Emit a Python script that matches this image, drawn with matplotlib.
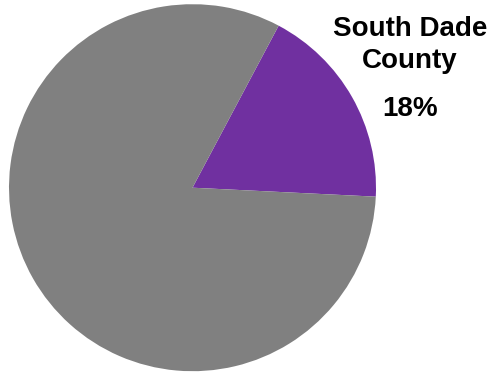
import matplotlib.pyplot as plt

# share of the total
labels = ["South Dade County", "Rest"]
shares = [18, 82]
colors = ["#7030A0", "#808080"]

W, H = 490, 373
fig = plt.figure(figsize=(W / 100, H / 100), dpi=100)
ax = fig.add_axes([0, 0, 1, 1])

ax.pie(shares, colors=colors, startangle=-2.8, counterclock=True,
       center=(192.5, H - 187.7), radius=183.5,
       wedgeprops=dict(linewidth=0))
ax.set_xlim(0, W)
ax.set_ylim(0, H)
ax.set_aspect("equal")
ax.axis("off")

font = dict(family="Liberation Sans", fontweight="bold", fontsize=20,
            ha="center", va="baseline", color="black")
ax.text(410, H - 36, "South Dade", **font)
ax.text(410, H - 68, "County", **font)
ax.text(410, H - 116, f"{shares[0]}%", **font)

fig.savefig("out.png", dpi=100)
